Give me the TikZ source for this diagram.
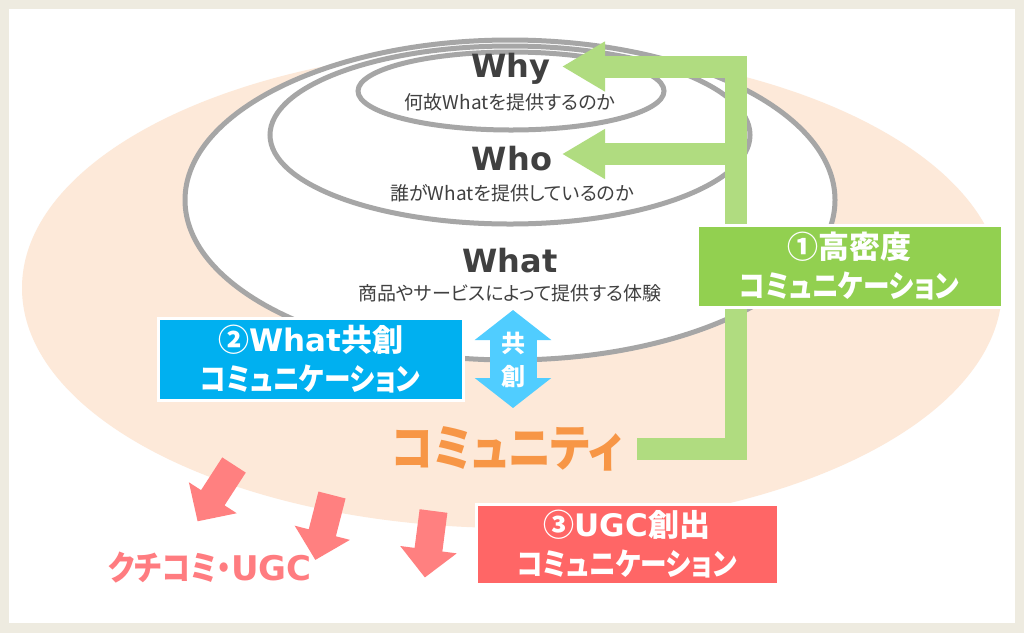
\documentclass[tikz,border=0pt]{standalone}
\usepackage{fontspec}
\setmainfont{Noto Sans CJK JP}[RawFeature=+palt]
\newfontfamily\jpnarrow{Noto Sans CJK JP}[RawFeature=+palt, FakeStretch=0.86]
\newfontfamily\latfont{DejaVu Sans}
\usetikzlibrary{arrows.meta,positioning}

\definecolor{framebg}{HTML}{EEEBE0}
\definecolor{peach}{HTML}{FDE9D9}
\definecolor{ringgray}{HTML}{A6A6A6}
\definecolor{textgray}{HTML}{404040}
\definecolor{linkgreen}{HTML}{B0DC80}
\definecolor{boxgreen}{HTML}{92D050}
\definecolor{boxblue}{HTML}{00B0F0}
\definecolor{coblue}{HTML}{50CDFF}
\definecolor{commorange}{HTML}{F79646}
\definecolor{boxred}{HTML}{FF6666}
\definecolor{ugcred}{HTML}{FF8080}
\definecolor{ugcpink}{HTML}{FF7C80}

\newcommand\lat[1]{{\latfont\bfseries #1}}
\newcommand\kana[1]{{\jpnarrow\bfseries #1}}

\begin{document}
\begin{tikzpicture}[x=1pt, y=-1pt,
    ring/.style={draw=ringgray, line width=5pt, fill=white},
    headtext/.style={text=textgray, font=\latfont\bfseries\fontsize{32}{36}\selectfont, inner sep=0pt},
    subtext/.style={text=textgray, font=\fontsize{19}{24}\selectfont, inner sep=0pt},
    commbox/.style={draw=white, line width=3pt, text=white, align=center,
      minimum width=305pt, minimum height=82pt, inner sep=0pt,
      font=\bfseries\fontsize{31}{39}\selectfont},
    greenlink/.style={draw=linkgreen, line width=22pt,
      -{Triangle[width=47pt, length=43pt]}},
    cocreate/.style={draw=coblue, line width=47pt,
      {Triangle[width=75pt, length=30pt]}-{Triangle[width=75pt, length=30pt]}}]

  % frame
  \useasboundingbox (0,0) rectangle (1024,633);
  \fill[framebg] (0,0) rectangle (1024,633);
  \fill[white] (9,9) rectangle (1015,623);

  % community field
  \fill[peach] (512,288) ellipse [x radius=490pt, y radius=240pt];

  % nested rings
  \draw[ring] (510,200) ellipse [x radius=325pt, y radius=160pt];
  \draw[ring] (510,135) ellipse [x radius=240pt, y radius=89pt];
  \draw[ring] (511,91) ellipse [x radius=153pt, y radius=39pt];

  % ring labels
  \node[headtext, anchor=base] (why) at (511,77) {Why};
  \node[subtext] (whysub) at (510,102) {何故Whatを提供するのか};
  \node[headtext, anchor=base] (who) at (512,170) {Who};
  \node[subtext] (whosub) at (512,193) {誰がWhatを提供しているのか};
  \node[headtext, anchor=base] (what) at (510,272) {What};
  \node[subtext] (whatsub) at (510,293) {商品やサービスによって提供する体験};

  % community
  \node[text=commorange, font=\jpnarrow\bfseries\fontsize{50}{56}\selectfont, inner sep=0pt]
    (comm) at (507,449) {コミュニティ};

  % high-density link back to Why / Who
  \coordinate (commout) at (637,448.5);
  \coordinate (bend) at (736,66.5);
  \coordinate (whytip) at (562,66.5);
  \coordinate (whotip) at (562,154);
  \draw[greenlink] (commout) -| (bend) -- (whytip);
  \draw[greenlink] (bend |- whotip) -- (whotip);

  \node[commbox, fill=boxgreen] (dense) at (849.5,266) {①高密度\\\kana{コミュニケーション}};

  % co-creation
  \coordinate (cotop) at (513,310);
  \coordinate (cobot) at (513,408);
  \draw[cocreate] (cotop) -- (cobot);
  \node[text=white, font=\bfseries\fontsize{24}{24}\selectfont, inner sep=0pt] (co1) at (513,343) {共};
  \node[text=white, font=\bfseries\fontsize{24}{24}\selectfont, inner sep=0pt] (co2) at (513,377) {創};

  \node[commbox, fill=boxblue] (cowhat) at (310.5,359) {②\lat{What}共創\\\kana{コミュニケーション}};

  % UGC spreading out
  \foreach \tx/\ty/\ang in {234/465/-122.9, 332/495/-104.4, 433.5/511/-97.4}
    \fill[ugcred, shift={(\tx,\ty)}, rotate=\ang]
      (0,-14) -- (39,-14) -- (39,-28.5) -- (67,0) -- (39,28.5) -- (39,14) -- (0,14) -- cycle;

  \node[commbox, fill=boxred, minimum width=302pt, minimum height=80pt] (ugcbox) at (627,544)
    {③\lat{UGC}創出\\\kana{コミュニケーション}};
  \node[text=ugcpink, font=\bfseries\fontsize{34}{40}\selectfont, inner sep=0pt]
    (ugc) at (210,567.5) {\kana{クチコミ・}\lat{UGC}};

\end{tikzpicture}
\end{document}
